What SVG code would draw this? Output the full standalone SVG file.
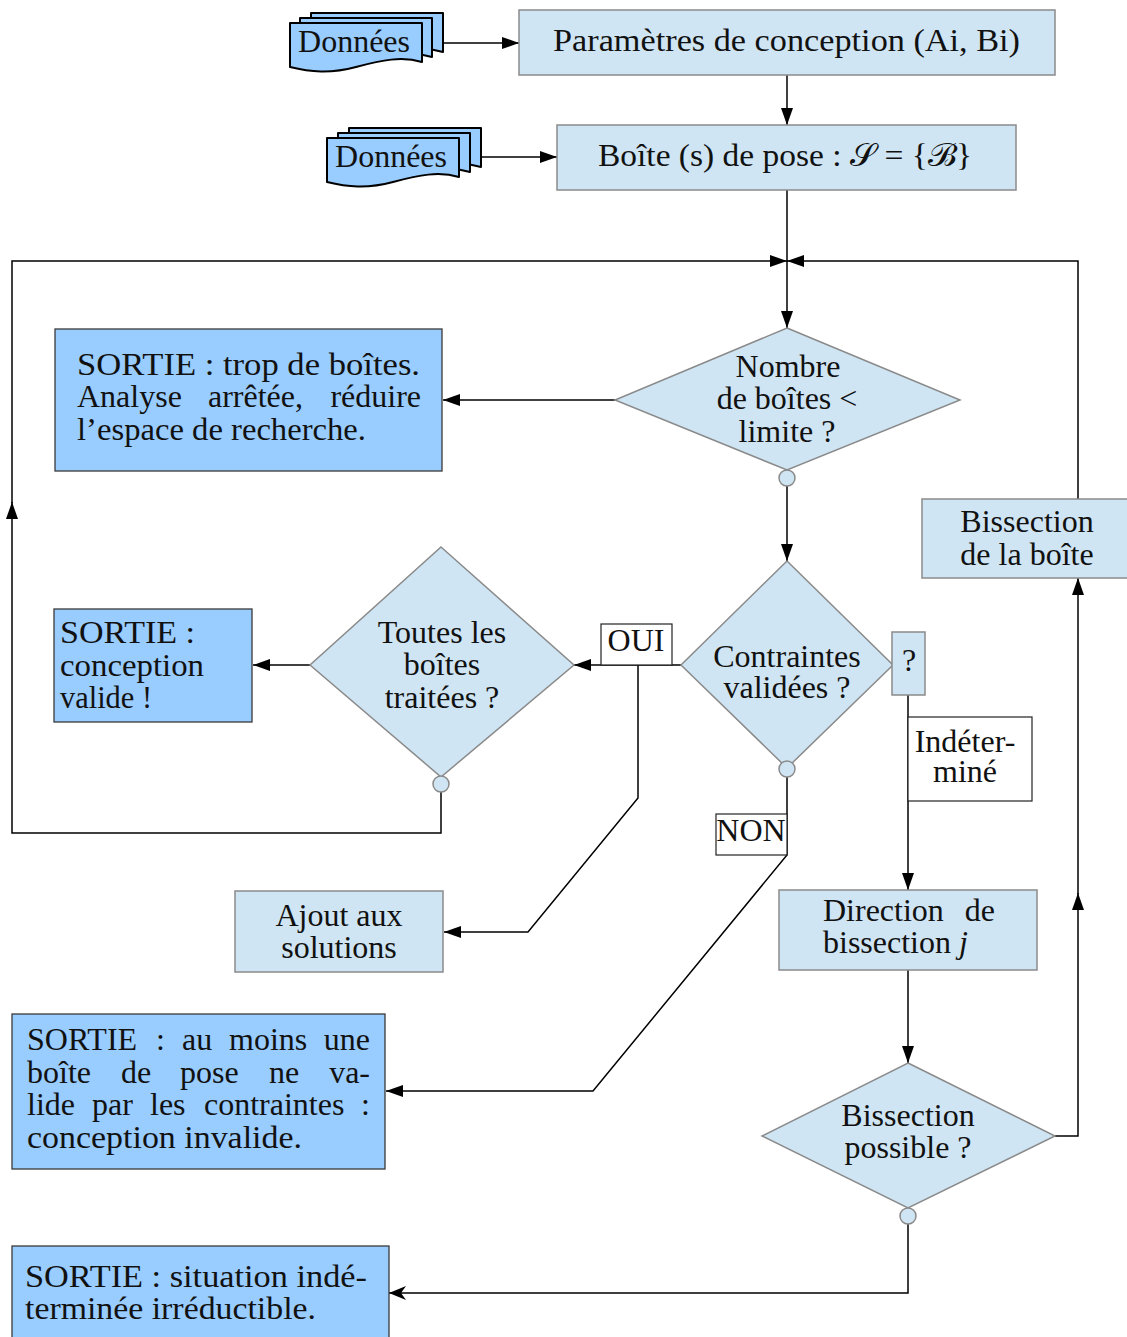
<svg xmlns="http://www.w3.org/2000/svg" xmlns:xlink="http://www.w3.org/1999/xlink" width="1127" height="1337" viewBox="0 0 1127 1337">
<style>
.lb{fill:#cfe5f3;stroke:#8a8a8a;stroke-width:1.5}
.out{fill:#99ccff;stroke:#3a3a3a;stroke-width:1.3}
.lab{fill:#ffffff;stroke:#222;stroke-width:1.2}
.doc{fill:#99ccff;stroke:#000;stroke-width:2;stroke-linejoin:round}
.dot{fill:#cfe5f3;stroke:#8a8a8a;stroke-width:1.5}
.ln{fill:none;stroke:#000;stroke-width:1.5}
text{font-family:"Liberation Serif","DejaVu Serif",serif;font-size:32px;fill:#111}
.c{text-anchor:middle}
.e{text-anchor:end}
</style>
<defs>
<marker id="ar" markerUnits="userSpaceOnUse" markerWidth="18" markerHeight="12" refX="17" refY="6" orient="auto">
<path d="M0,0 L17,6 L0,12 z" fill="#000"/>
</marker>
<marker id="st" markerUnits="userSpaceOnUse" markerWidth="18" markerHeight="14" refX="17" refY="7" orient="auto">
<path d="M0,0 L17,7 L0,14 L5,7 z" fill="#000"/>
</marker>
<path id="docshape" d="M0,0 H132 V39 C112,33 92,37 66,44 C40,51 20,49 0,44 Z"/>
</defs>

<g id="connectors">
<path class="ln" d="M443,43 H519" marker-end="url(#ar)"/>
<path class="ln" d="M481,157 H557" marker-end="url(#ar)"/>
<path class="ln" d="M787,75 V125" marker-end="url(#ar)"/>
<path class="ln" d="M787,190 V328" marker-end="url(#ar)"/>
<path class="ln" d="M441,792 V833 H12 V502" marker-end="url(#ar)"/>
<path class="ln" d="M12,503 V261 H787" marker-end="url(#ar)"/>
<path class="ln" d="M1055,1136 H1078 V893" marker-end="url(#ar)"/>
<path class="ln" d="M1078,894 V578" marker-end="url(#ar)"/>
<path class="ln" d="M1078,499 V261 H787" marker-end="url(#ar)"/>
<path class="ln" d="M615,400 H443" marker-end="url(#ar)"/>
<path class="ln" d="M787,486 V561" marker-end="url(#ar)"/>
<path class="ln" d="M681,665 H574" marker-end="url(#ar)"/>
<path class="ln" d="M638,665 V798 L528,932 H444" marker-end="url(#ar)"/>
<path class="ln" d="M310,665 H253" marker-end="url(#ar)"/>
<path class="ln" d="M787,777 V855 L593,1091 H386" marker-end="url(#ar)"/>
<path class="ln" d="M908,695 V890" marker-end="url(#ar)"/>
<path class="ln" d="M908,970 V1063" marker-end="url(#ar)"/>
<path class="ln" d="M908,1224 V1293 H389" marker-end="url(#st)"/>
</g>

<g id="donnees1">
<use xlink:href="#docshape" href="#docshape" class="doc" x="311" y="13"/>
<use xlink:href="#docshape" href="#docshape" class="doc" x="300" y="18"/>
<use xlink:href="#docshape" href="#docshape" class="doc" x="290" y="23"/>
<text class="c" x="354" y="52">Données</text>
</g>

<g id="donnees2">
<use xlink:href="#docshape" href="#docshape" class="doc" x="349" y="128"/>
<use xlink:href="#docshape" href="#docshape" class="doc" x="338" y="133"/>
<use xlink:href="#docshape" href="#docshape" class="doc" x="327" y="138"/>
<text class="c" x="391" y="167">Données</text>
</g>

<g id="parametres">
<rect class="lb" x="519" y="10" width="536" height="65"/>
<text x="553" y="51" textLength="467" lengthAdjust="spacingAndGlyphs">Paramètres de conception (Ai, Bi)</text>
</g>

<g id="boite-pose">
<rect class="lb" x="557" y="125" width="459" height="65"/>
<text x="598" y="166" textLength="374" lengthAdjust="spacingAndGlyphs">Boîte (s) de pose : 𝒮 = {ℬ}</text>
</g>

<g id="nombre-boites">
<polygon class="lb" points="787,328 960,400 787,470 615,400"/>
<circle class="dot" cx="787" cy="478" r="8"/>
<text class="c" x="788" y="377">Nombre</text>
<text class="c" x="787" y="409">de boîtes &lt;</text>
<text class="c" x="787" y="442">limite ?</text>
</g>

<g id="sortie-trop">
<rect class="out" x="55" y="329" width="387" height="142"/>
<text x="77" y="375" textLength="343" lengthAdjust="spacingAndGlyphs">SORTIE : trop de boîtes.</text>
<text x="77" y="407">Analyse</text>
<text x="208" y="407">arrêtée,</text>
<text class="e" x="421" y="407">réduire</text>
<text x="77" y="440" textLength="289" lengthAdjust="spacingAndGlyphs">l’espace de recherche.</text>
</g>

<g id="contraintes">
<polygon class="lb" points="787,561 893,665 787,768 681,665"/>
<circle class="dot" cx="787" cy="769" r="8"/>
<text class="c" x="787" y="667">Contraintes</text>
<text class="c" x="787" y="698">validées ?</text>
</g>

<g id="label-oui">
<rect class="lab" x="601" y="624" width="71" height="41"/>
<text class="c" x="636" y="651">OUI</text>
</g>

<g id="label-q">
<rect class="lb" x="892" y="632" width="33" height="63"/>
<text class="c" x="909" y="671">?</text>
</g>

<g id="label-indetermine">
<rect class="lab" x="908" y="717" width="124" height="84"/>
<text class="c" x="965" y="752">Indéter-</text>
<text class="c" x="965" y="782">miné</text>
</g>

<g id="label-non">
<rect class="lab" x="716" y="814" width="71" height="41"/>
<text class="c" x="751" y="841">NON</text>
</g>

<g id="toutes-boites">
<polygon class="lb" points="441,547 574,665 441,777 310,665"/>
<circle class="dot" cx="441" cy="784" r="8"/>
<text class="c" x="442" y="643">Toutes les</text>
<text class="c" x="442" y="675">boîtes</text>
<text class="c" x="442" y="708">traitées ?</text>
</g>

<g id="sortie-valide">
<rect class="out" x="54" y="609" width="198" height="113"/>
<text x="60" y="643" textLength="135" lengthAdjust="spacingAndGlyphs">SORTIE :</text>
<text x="60" y="676" textLength="144" lengthAdjust="spacingAndGlyphs">conception</text>
<text x="60" y="708" textLength="92" lengthAdjust="spacingAndGlyphs">valide !</text>
</g>

<g id="bissection-boite">
<rect class="lb" x="922" y="499" width="207" height="79"/>
<text class="c" x="1027" y="532">Bissection</text>
<text class="c" x="1027" y="565">de la boîte</text>
</g>

<g id="ajout-solutions">
<rect class="lb" x="235" y="891" width="208" height="81"/>
<text class="c" x="339" y="926">Ajout aux</text>
<text class="c" x="339" y="958">solutions</text>
</g>

<g id="direction">
<rect class="lb" x="779" y="890" width="258" height="80"/>
<text x="823" y="921">Direction</text>
<text class="e" x="995" y="921">de</text>
<text x="823" y="953">bissection <tspan font-style="italic">j</tspan></text>
</g>

<g id="sortie-invalide">
<rect class="out" x="12" y="1014" width="373" height="155"/>
<text x="27" y="1050">SORTIE</text>
<text x="156" y="1050">:</text>
<text x="182" y="1050">au</text>
<text x="229" y="1050">moins</text>
<text class="e" x="370" y="1050">une</text>
<text x="27" y="1083">boîte</text>
<text x="121" y="1083">de</text>
<text x="180" y="1083">pose</text>
<text x="269" y="1083">ne</text>
<text class="e" x="370" y="1083">va-</text>
<text x="27" y="1115">lide</text>
<text x="92" y="1115">par</text>
<text x="150" y="1115">les</text>
<text x="204" y="1115">contraintes</text>
<text class="e" x="370" y="1115">:</text>
<text x="27" y="1148" textLength="275" lengthAdjust="spacingAndGlyphs">conception invalide.</text>
</g>

<g id="bissection-possible">
<polygon class="lb" points="908,1063 1055,1136 908,1208 762,1136"/>
<circle class="dot" cx="908" cy="1216" r="8"/>
<text class="c" x="908" y="1126">Bissection</text>
<text class="c" x="908" y="1158">possible ?</text>
</g>

<g id="sortie-indeterminee">
<rect class="out" x="12" y="1246" width="377" height="95"/>
<text x="25" y="1287" textLength="342" lengthAdjust="spacingAndGlyphs">SORTIE : situation indé-</text>
<text x="25" y="1319" textLength="291" lengthAdjust="spacingAndGlyphs">terminée irréductible.</text>
</g>
</svg>
